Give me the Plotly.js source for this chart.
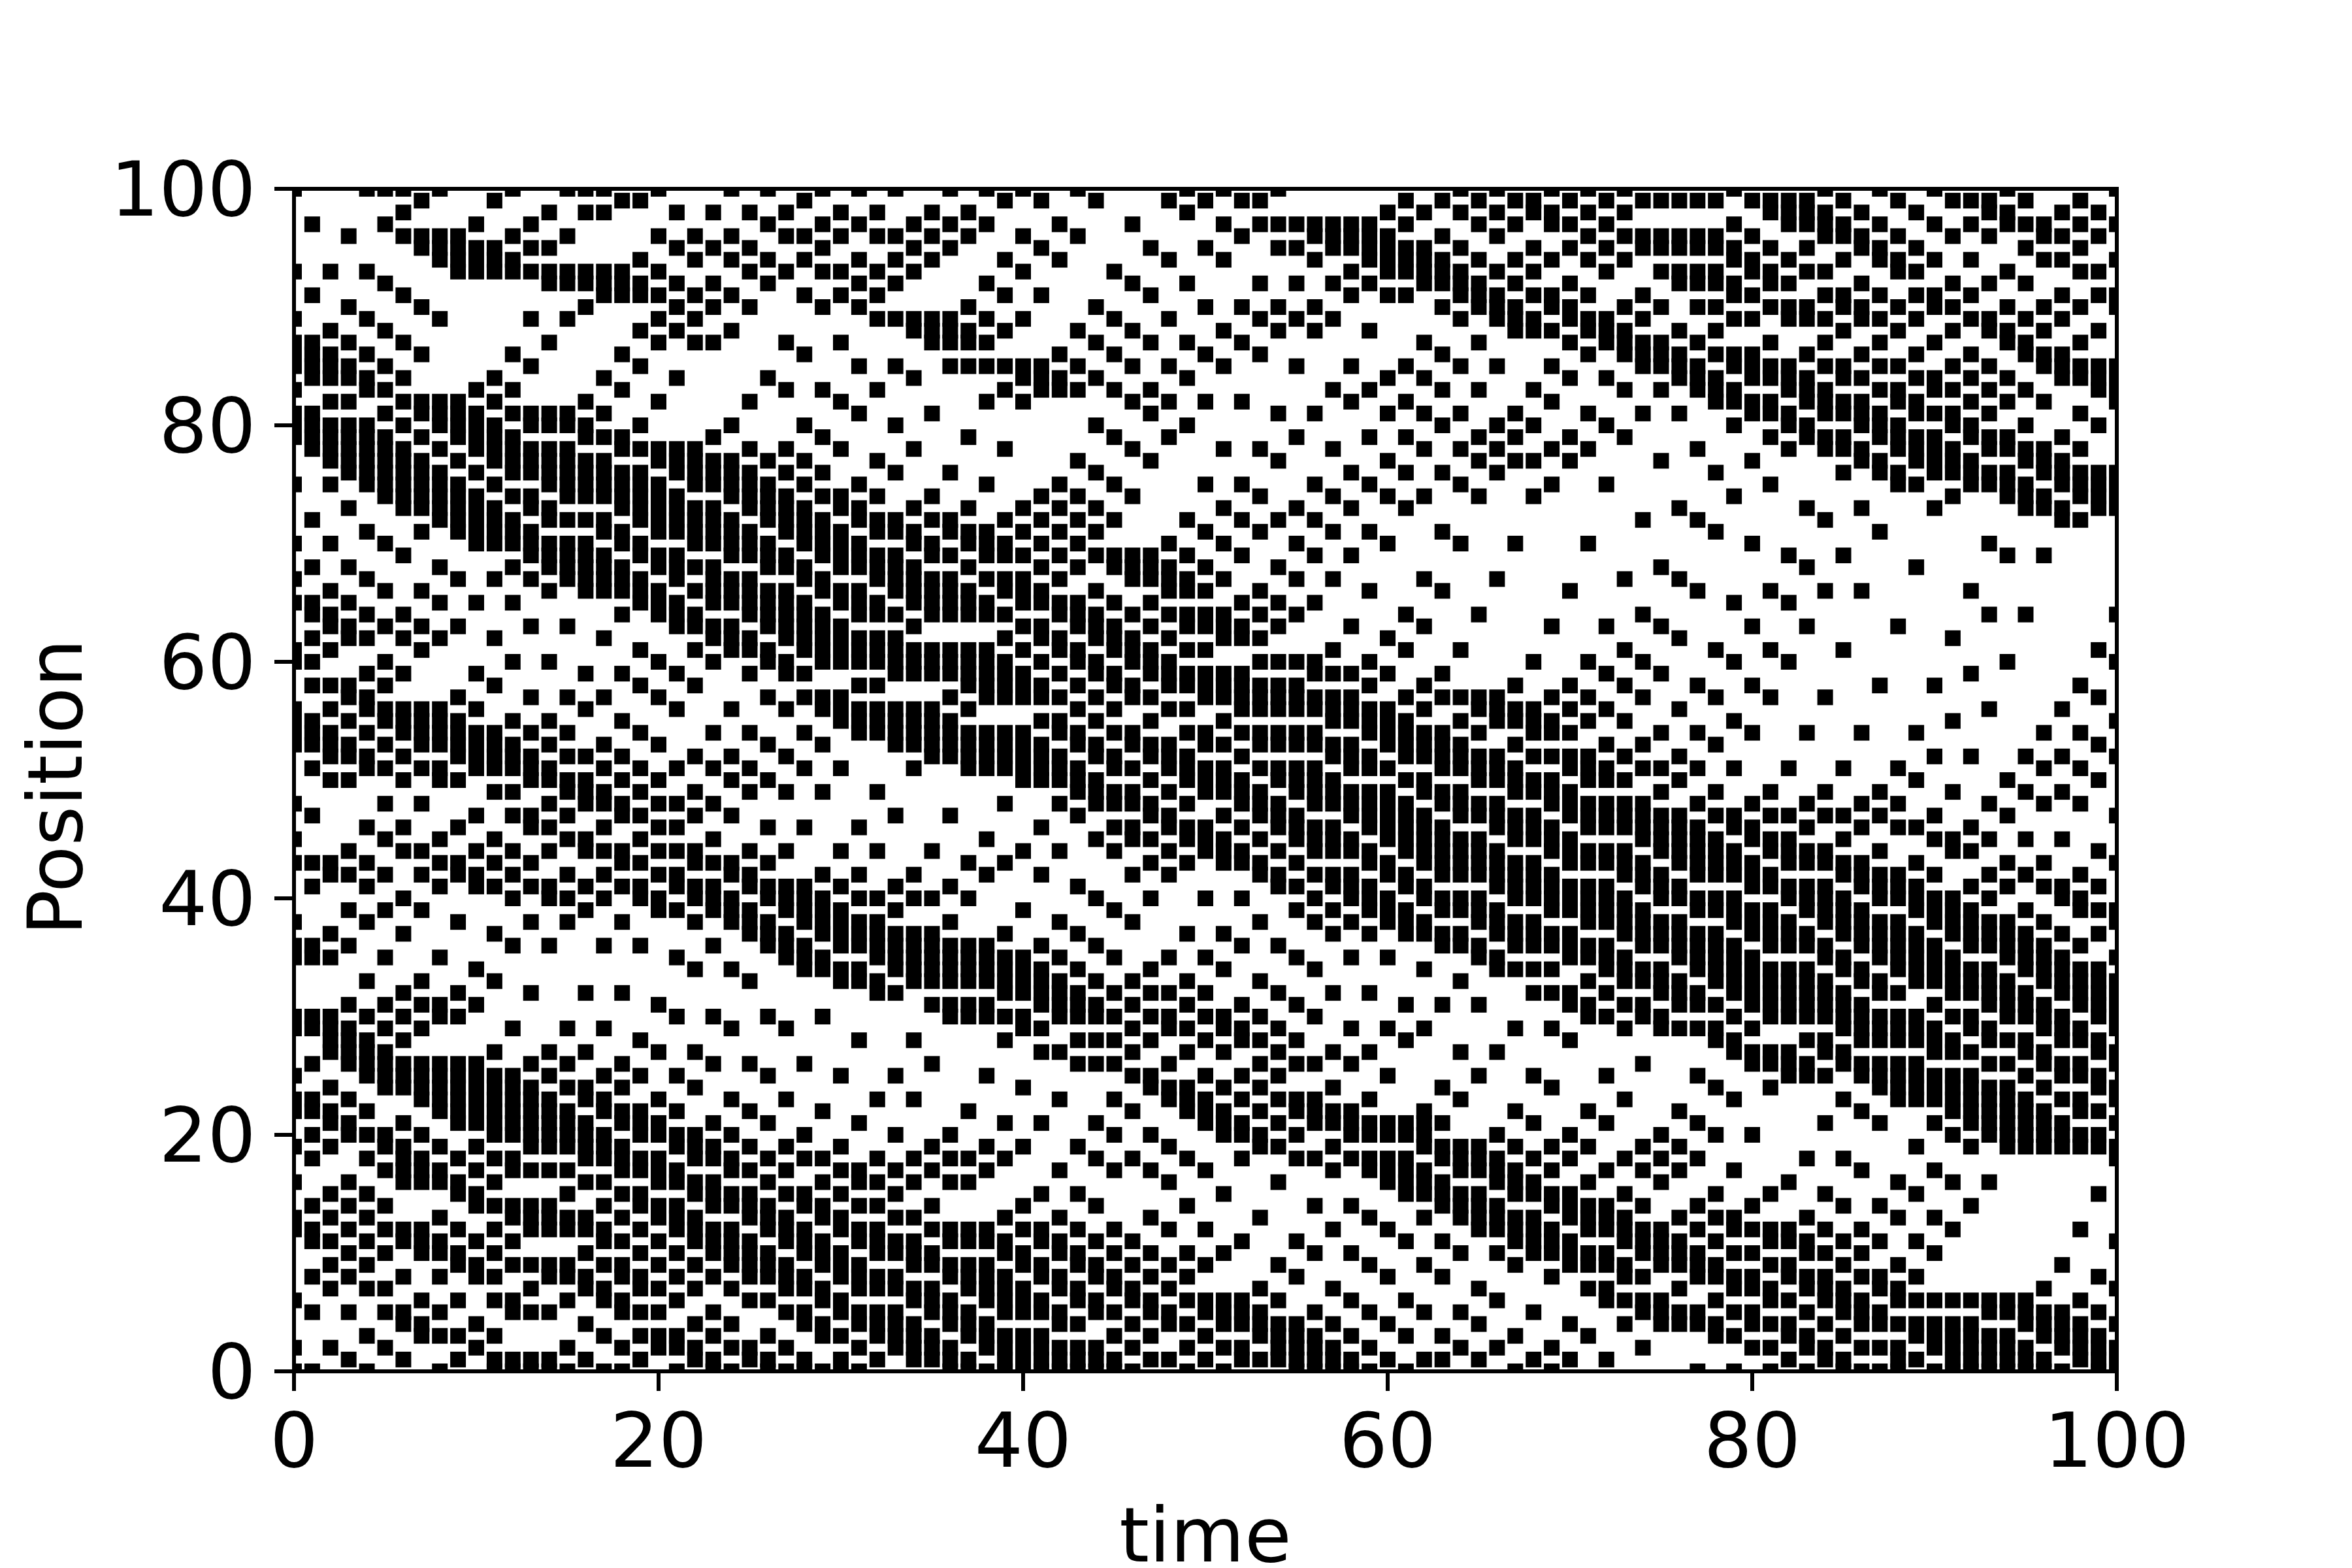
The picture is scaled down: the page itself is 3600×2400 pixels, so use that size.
<!DOCTYPE html>
<html>
<head>
<meta charset="utf-8">
<script src="https://cdn.plot.ly/plotly-3.0.1.min.js"></script>
<style>html,body{margin:0;padding:0;background:#fff}</style>
</head>
<body>
<div id="chart" style="width:3600px;height:2400px"></div>
<script>
const tickValues = [0, 20, 40, 60, 80, 100];
const xTitle = "time";
const yTitle = "Position";
const t0=[100,93,89,87,86,85,83,81,80,79,75,70,67,65,61,60,56,55,54,53,48,45,43,38,36,35,30,29,25,23,22,19,16,13,12,6,2,0];
const t1=[97,91,87,86,85,84,81,80,79,78,72,68,65,64,62,60,58,55,54,53,51,47,43,41,36,35,30,29,26,23,22,20,18,14,12,11,8,5,0];
const t2=[93,88,86,85,84,82,80,79,78,77,75,70,66,64,63,61,58,56,54,53,52,50,43,42,37,35,30,29,28,27,24,22,21,19,15,13,11,9,7,2];
const t3=[96,90,87,85,84,82,80,79,78,77,76,73,68,65,63,62,58,57,55,53,52,50,44,42,39,36,31,29,28,27,26,23,21,20,16,14,12,10,8,5,1];
const t4=[100,93,89,86,84,83,80,79,78,77,76,75,71,67,64,62,59,57,56,54,52,51,46,43,41,38,33,30,28,27,26,25,22,20,18,15,13,11,9,7,3,0];
const t5=[100,97,92,88,85,83,81,79,78,77,76,75,74,70,66,63,60,58,56,55,53,51,48,45,42,39,35,31,29,27,26,25,24,20,19,17,14,12,10,7,5,2];
const t6=[100,98,96,91,87,84,82,80,78,77,76,75,74,73,69,64,62,59,56,55,54,52,50,46,44,40,37,32,30,28,26,25,24,21,19,18,17,16,12,11,8,5,4,1];
const t7=[99,96,95,90,86,82,81,79,77,76,75,74,73,71,66,63,61,56,55,54,53,51,48,44,42,39,33,31,29,26,25,24,23,20,18,17,16,12,11,10,6,4,3];
const t8=[100,96,95,94,89,82,81,80,78,76,75,74,73,72,68,65,62,56,55,54,53,51,50,45,43,41,35,31,30,26,25,24,23,22,19,17,16,13,11,10,8,5,3,0];
const t9=[96,95,94,93,82,81,80,79,77,75,74,73,72,71,67,63,57,55,54,53,52,50,46,43,42,38,32,30,26,25,24,23,22,21,18,16,15,12,10,9,6,3,1];
const t10=[97,95,94,93,83,81,80,79,78,76,74,73,72,71,70,65,59,56,54,53,52,51,47,44,42,41,34,31,26,25,24,23,22,21,19,17,15,14,11,9,8,4,2];
const t11=[99,95,94,93,84,82,80,79,78,77,75,73,72,71,70,67,62,58,54,53,52,51,49,45,43,41,37,33,27,25,24,23,22,21,20,18,16,14,12,10,8,6,3,1,0];
const t12=[100,96,94,93,86,83,81,79,78,77,76,74,72,71,70,68,65,60,55,53,52,51,49,47,44,42,40,36,29,25,24,23,22,21,20,18,17,14,13,11,9,6,5,1,0];
const t13=[97,95,93,89,85,81,80,78,77,76,74,73,71,70,69,67,63,57,54,52,51,50,47,46,43,41,38,32,26,24,23,22,21,20,19,17,14,13,12,9,7,5,1,0];
const t14=[98,95,93,92,87,81,80,78,77,76,75,73,72,70,69,68,66,60,55,53,51,50,48,46,44,41,40,36,27,25,23,22,21,20,19,17,14,13,12,9,8,5,1,0];
const t15=[100,96,93,92,89,81,80,78,77,76,75,74,72,70,69,68,67,63,57,54,52,50,49,47,45,42,40,38,29,26,24,22,21,20,19,17,15,13,12,9,8,6,2,0];
const t16=[100,98,93,92,90,82,80,79,77,76,75,74,72,70,69,68,67,66,59,56,52,50,49,48,45,44,41,39,32,27,24,23,21,20,19,18,16,13,12,10,8,7,4,1];
const t17=[100,98,93,92,91,84,81,79,77,76,75,74,72,71,69,68,67,66,62,57,53,51,49,48,46,44,42,40,36,29,25,23,22,20,19,18,16,14,12,11,9,7,6,3,0];
const t18=[99,93,92,91,86,83,79,78,76,75,74,73,71,70,68,67,66,64,59,55,52,50,48,47,44,43,41,38,32,26,24,22,21,19,18,17,15,13,11,9,8,6,5,2,0];
const t19=[99,94,92,91,88,85,80,78,76,75,74,73,72,70,69,67,66,65,61,58,54,51,49,47,45,43,41,40,36,28,25,22,21,20,18,17,15,14,12,10,8,7,5,3,1];
const t20=[100,96,93,91,89,87,82,78,77,75,74,73,72,71,69,68,66,65,64,60,57,53,50,48,46,44,42,40,39,31,27,23,21,20,18,17,16,14,13,11,9,7,5,3,2];
const t21=[98,95,92,90,88,84,78,77,76,74,73,72,71,69,68,67,65,64,63,59,56,51,48,46,44,42,41,39,35,30,25,22,20,19,17,16,14,13,12,10,8,6,3,2,0];
const t22=[96,94,91,89,87,78,77,76,75,73,72,71,70,68,66,64,63,61,58,52,49,47,44,43,41,40,38,34,27,24,20,19,18,16,15,13,12,11,9,7,4,2,1];
const t23=[98,95,92,90,87,79,77,76,75,73,72,71,70,68,67,66,65,63,62,60,54,51,48,45,43,41,40,39,36,30,26,21,19,18,16,15,14,12,11,10,8,5,3,1,0];
const t24=[100,96,94,91,88,80,77,76,75,74,72,71,70,69,67,66,65,63,62,61,56,52,50,47,43,42,40,39,38,34,29,23,20,18,17,15,14,12,11,10,9,7,4,2,0];
const t25=[98,95,93,90,82,78,76,75,74,73,71,70,69,67,66,65,64,62,61,59,54,51,49,44,42,41,39,38,37,33,26,22,19,17,15,14,13,11,10,9,8,6,2,1];
const t26=[100,97,94,92,84,77,75,74,73,72,70,69,68,66,65,64,63,61,60,57,53,50,46,43,41,40,38,37,36,30,25,21,18,16,14,13,12,10,9,8,6,3,1,0];
const t27=[98,96,93,87,83,78,76,74,73,72,71,69,68,66,65,64,63,62,60,59,56,52,49,44,41,40,39,37,36,35,29,23,19,17,15,13,12,11,9,8,7,5,2,0];
const t28=[99,96,94,91,86,80,77,75,73,72,71,70,68,67,65,64,63,62,61,59,57,54,51,46,41,40,39,38,36,35,34,26,20,18,15,14,12,11,10,8,7,5,4,1,0];
const t29=[100,97,95,93,90,83,79,76,74,72,71,70,69,67,66,64,63,62,61,60,57,56,53,49,42,40,39,38,37,35,34,30,22,18,16,14,13,11,10,9,7,6,4,3,0];
const t30=[98,96,93,91,87,82,78,74,73,71,70,69,68,66,65,63,62,61,60,57,56,55,51,44,41,39,38,37,36,34,33,25,19,17,15,13,12,10,9,8,6,5,3,1,0];
const t31=[100,97,94,92,90,85,81,75,73,72,70,69,68,66,65,64,62,61,60,58,56,55,54,46,42,40,38,37,36,34,33,28,21,17,16,14,12,11,9,8,7,5,4,2,0];
const t32=[98,96,93,91,89,83,77,74,72,71,69,68,67,65,64,62,61,60,58,56,55,54,49,44,40,38,37,36,35,33,32,23,18,16,14,12,11,10,8,7,5,4,3,1];
const t33=[100,96,94,92,89,85,80,76,72,71,69,68,67,66,64,62,61,60,59,56,55,54,53,47,41,39,37,36,35,34,32,25,20,17,15,13,11,10,8,7,5,4,3,2];
const t34=[97,95,93,89,88,84,78,73,71,70,68,67,66,65,63,61,60,59,56,55,54,53,51,42,40,37,36,35,34,33,28,23,18,16,13,11,10,9,7,6,4,3,2,1];
const t35=[98,96,94,89,88,87,81,74,72,70,69,67,66,65,64,61,60,59,56,55,54,53,52,44,40,37,36,35,34,33,31,26,19,17,14,12,10,9,7,6,5,3,2,1];
const t36=[100,97,95,89,88,87,85,76,72,71,69,67,66,65,64,61,60,59,57,55,54,53,52,47,41,38,36,35,34,33,31,30,20,18,16,12,11,9,8,6,5,4,2,1,0];
const t37=[98,96,90,88,87,85,79,73,71,70,68,66,65,64,61,60,59,58,56,54,53,52,51,43,40,36,35,34,33,31,30,22,18,16,12,11,9,8,7,5,4,3,1,0];
const t38=[100,97,92,89,87,85,82,75,71,70,69,67,65,64,61,60,59,58,57,54,53,52,51,45,42,36,35,34,33,31,30,25,19,17,12,11,9,8,7,6,4,3,2,0];
const t39=[99,94,91,88,85,83,78,72,70,69,67,66,64,62,60,59,58,57,54,53,52,51,48,43,37,35,34,33,32,30,28,21,18,13,11,10,8,7,6,5,3,2,1,0];
const t40=[100,96,93,89,85,84,82,73,71,69,67,66,65,63,61,59,58,57,54,53,52,51,50,44,39,35,34,33,32,30,29,24,19,14,12,10,9,7,6,5,3,2,1,0];
const t41=[99,95,91,85,84,83,74,72,70,68,66,65,63,62,60,58,57,55,53,52,51,50,46,42,36,34,33,32,31,29,27,21,15,12,11,9,8,6,5,3,2,1,0];
const t42=[97,94,86,84,83,75,73,71,69,67,65,64,62,61,59,57,55,54,52,51,50,48,44,38,35,33,32,31,30,27,23,17,13,11,10,8,7,5,4,2,1,0];
const t43=[100,96,88,85,83,77,74,72,70,68,65,64,63,61,60,58,56,54,53,51,50,49,47,41,37,34,32,31,30,28,26,19,15,12,10,9,7,6,4,2,1,0];
const t44=[99,90,87,84,80,76,73,71,69,66,64,63,62,60,59,57,55,53,52,50,49,48,45,40,36,33,31,30,28,26,21,18,14,11,9,8,6,5,2,1,0];
const t45=[93,89,86,83,79,75,72,69,68,65,63,62,61,59,58,56,54,52,51,49,48,46,44,39,35,32,30,28,26,23,20,17,12,10,8,7,5,3,1,0];
const t46=[97,92,88,85,82,78,74,69,68,67,64,62,61,60,58,57,54,53,51,49,48,46,45,42,38,33,31,29,27,25,22,18,11,9,7,6,4,2,0];
const t47=[95,91,87,83,81,77,69,68,67,65,63,61,60,59,57,55,53,52,50,48,47,45,43,40,34,32,30,28,25,24,20,17,13,10,8,6,5,3,1];
const t48=[99,94,89,85,82,79,70,68,67,66,64,62,60,59,58,56,53,52,51,49,47,46,44,42,35,32,30,29,26,24,23,19,16,12,9,7,5,4,1];
const t49=[100,98,92,87,84,80,72,69,67,66,64,63,61,59,58,56,54,52,51,50,48,46,45,43,37,33,31,29,27,24,23,22,18,14,10,8,6,4,2,0];
const t50=[99,95,90,86,82,75,71,68,66,64,63,61,59,58,57,54,53,51,50,49,46,45,44,40,35,32,30,28,25,23,22,21,17,12,9,6,5,3,1];
const t51=[100,97,94,88,85,78,73,70,67,64,63,62,59,58,57,55,53,51,50,49,47,45,44,43,37,34,30,29,27,24,22,21,20,15,10,6,5,4,2,0];
const t52=[99,96,90,87,82,75,72,69,65,63,62,59,58,57,56,54,52,50,49,48,46,44,43,40,36,31,29,28,25,23,21,20,18,11,6,5,4,2,1];
const t53=[99,97,92,89,86,78,74,71,66,64,62,60,58,57,56,54,53,51,49,48,47,45,43,42,38,33,30,28,26,24,22,20,19,13,7,5,4,3,1];
const t54=[100,97,95,90,88,81,77,72,68,65,63,60,58,57,56,54,53,51,50,48,47,46,44,42,41,36,32,29,27,25,23,21,19,16,9,6,4,3,2,1];
const t55=[97,95,92,89,85,79,73,70,67,64,60,58,57,56,54,53,51,50,49,47,46,45,43,41,39,35,31,28,26,23,22,20,18,11,8,4,3,2,1,0];
const t56=[97,96,94,90,88,81,75,72,69,65,60,59,57,56,54,53,51,50,49,48,46,45,44,42,40,38,34,30,26,23,22,21,18,14,10,5,3,2,1,0];
const t57=[97,96,95,92,89,83,78,74,71,67,61,59,57,56,55,53,52,50,49,48,46,45,44,42,41,39,37,32,27,24,22,21,19,17,12,7,4,2,1,0];
const t58=[97,96,95,93,91,85,82,76,73,69,63,59,57,56,55,53,52,51,49,48,47,45,44,42,41,40,38,35,29,26,22,21,20,18,14,10,6,3,1,0];
const t59=[97,96,95,94,92,88,83,79,75,71,66,60,58,56,55,54,52,51,49,48,47,46,44,43,41,40,39,37,32,27,23,21,20,18,17,13,9,5,2,0];
const t60=[98,96,95,94,93,91,84,81,77,74,70,62,59,56,55,54,53,51,49,48,47,46,45,43,42,40,39,38,35,29,25,21,20,18,17,16,12,8,4,1];
const t61=[99,97,95,94,93,91,85,82,79,76,73,64,61,57,55,54,53,52,50,48,47,46,45,44,42,41,39,38,37,31,28,21,20,18,17,16,15,11,6,3,0];
const t62=[98,95,94,93,92,87,84,81,78,74,67,63,58,56,54,53,52,50,49,47,46,45,44,43,41,40,38,37,34,29,22,21,20,19,17,16,15,13,9,5,1];
const t63=[99,96,94,93,92,90,86,83,80,76,71,66,59,57,54,53,52,51,49,48,46,45,44,43,42,40,39,37,36,31,24,21,19,18,16,15,14,11,8,3,1];
const t64=[100,98,95,93,92,91,89,85,81,78,75,70,61,57,55,53,52,51,49,48,47,45,44,43,42,40,39,37,36,33,27,23,19,18,17,15,14,13,10,5,2];
const t65=[99,97,94,92,91,90,87,83,79,77,74,64,57,56,54,52,51,50,48,47,45,44,43,42,40,39,38,36,35,31,25,19,18,17,15,14,13,12,7,4,1];
const t66=[100,98,96,93,91,90,89,85,80,78,76,67,57,56,55,52,51,50,48,47,46,44,43,42,41,39,38,37,35,34,27,20,18,17,16,14,13,12,10,6,2];
const t67=[99,97,94,92,90,89,88,81,79,77,70,58,56,55,53,51,50,49,47,46,45,43,42,41,40,38,37,36,34,29,22,19,17,16,15,13,12,11,9,3,0];
const t68=[99,98,95,93,91,89,88,83,80,77,74,60,56,55,54,52,50,49,47,46,45,43,42,41,40,38,37,36,34,32,25,21,18,16,15,13,12,11,10,5,1];
const t69=[100,98,97,94,91,90,88,85,82,78,75,63,57,55,54,52,50,49,48,46,45,44,42,41,40,39,37,36,34,32,29,24,19,17,15,14,12,11,10,8,2,0];
const t70=[99,97,95,92,90,89,87,84,79,77,66,58,56,54,52,51,49,48,47,45,44,43,41,40,39,37,36,35,32,31,28,20,18,15,14,13,11,10,9,4,1];
const t71=[100,98,96,94,91,89,88,86,81,78,70,60,57,55,52,51,50,48,47,46,44,43,41,40,39,38,36,35,33,31,30,22,19,16,14,13,12,10,9,7,3];
const t72=[99,97,95,93,89,88,87,84,80,75,63,59,56,53,51,50,48,47,46,44,43,41,40,39,38,36,35,34,32,30,25,21,17,14,13,12,10,9,7,6,1];
const t73=[100,98,96,94,90,88,87,86,83,79,67,61,58,55,52,50,48,47,46,44,43,42,40,39,38,37,35,34,33,31,29,23,18,15,13,12,11,9,8,6,4];
const t74=[99,96,95,91,89,87,86,85,81,72,64,60,57,53,51,48,47,46,45,43,42,41,39,38,37,36,34,33,31,30,26,19,17,14,12,11,10,8,6,5,2];
const t75=[99,96,95,93,90,87,86,85,83,77,68,63,59,54,51,49,47,46,45,44,42,41,40,38,37,36,34,33,32,30,29,20,18,16,12,11,10,9,6,5,4];
const t76=[99,96,95,93,92,88,86,85,84,81,73,67,62,56,52,50,47,46,45,44,43,41,40,38,37,36,35,33,32,31,29,22,19,17,13,11,10,9,7,5,4];
const t77=[99,96,95,93,92,90,87,85,84,83,78,72,66,58,54,51,48,46,45,44,43,42,40,39,37,36,35,34,32,31,29,25,21,18,14,12,10,9,8,5,4,0];
const t78=[99,96,95,93,92,90,88,86,84,83,82,76,71,61,57,53,49,47,45,44,43,42,40,39,37,36,35,34,33,31,29,28,24,20,15,13,11,9,8,6,4,3];
const t79=[100,97,95,94,92,91,89,86,85,83,82,80,74,65,60,55,51,47,46,44,43,42,40,39,38,36,35,34,33,32,30,28,27,23,17,13,12,10,8,7,5,3,0];
const t80=[99,96,94,93,91,89,86,85,84,82,81,77,70,63,58,54,48,46,45,43,42,41,39,38,37,35,34,33,32,31,29,27,26,20,14,12,10,8,7,5,4,2];
const t81=[99,98,95,93,92,90,87,85,84,82,81,79,75,66,61,57,49,47,45,44,42,41,39,38,37,36,34,33,32,31,30,27,26,24,15,12,11,9,7,6,4,2,0];
const t82=[99,98,97,94,92,90,89,85,84,83,81,80,78,69,65,60,51,47,45,44,43,41,40,38,37,36,34,33,32,31,30,27,26,25,16,12,11,9,8,6,4,3,1];
const t83=[99,98,97,95,93,90,89,86,84,83,82,80,79,73,68,63,54,48,46,44,43,41,40,39,37,36,34,33,32,31,30,28,26,25,18,13,11,10,8,7,5,3,2,0];
const t84=[100,98,97,96,93,91,89,87,85,83,82,81,79,78,72,66,57,49,47,44,43,41,40,39,38,36,35,33,32,31,30,28,27,25,21,15,12,10,8,7,6,4,2,1];
const t85=[99,97,96,94,91,90,88,85,84,82,81,79,78,76,69,61,51,47,45,43,42,40,39,38,37,35,34,32,31,30,29,27,26,23,18,14,11,9,7,6,5,3,1,0];
const t86=[98,96,95,92,90,89,86,84,82,81,80,78,77,73,66,54,48,46,43,42,41,39,38,37,36,34,33,31,30,29,28,26,25,22,17,12,10,8,6,5,4,2,0];
const t87=[100,97,95,94,91,89,87,85,83,81,80,79,77,76,71,58,49,47,44,42,41,40,38,37,36,35,33,32,30,29,28,26,25,24,21,14,11,8,7,5,4,2,0];
const t88=[99,96,94,93,90,88,85,83,82,80,79,78,76,75,63,51,48,46,42,41,40,38,37,36,35,34,32,30,29,28,26,25,24,23,16,13,9,7,6,4,2,1,0];
const t89=[98,95,93,91,89,86,84,82,81,79,78,77,75,68,54,50,46,43,41,40,39,37,36,35,34,33,30,29,28,26,25,24,23,19,15,11,8,6,4,3,1];
const t90=[100,97,94,91,90,87,84,83,81,79,78,77,76,73,58,52,47,45,42,40,39,38,36,35,34,33,31,29,28,27,25,24,23,21,17,13,10,6,4,3,2,0];
const t91=[99,96,92,90,88,85,83,81,80,78,77,76,74,62,55,49,45,44,40,39,38,37,35,34,33,32,30,28,27,25,24,23,22,20,16,12,6,4,3,2,1,0];
const t92=[99,97,94,91,89,86,84,82,80,79,77,76,75,66,59,52,46,44,41,39,38,37,36,34,33,32,30,29,27,25,24,23,22,21,19,14,6,4,3,2,1,0];
const t93=[99,98,96,92,89,88,85,83,81,79,78,76,75,70,64,56,48,45,42,40,38,37,36,34,33,32,31,29,28,26,24,23,22,21,20,16,6,5,3,2,1,0];
const t94=[100,98,97,93,90,88,87,84,82,79,78,76,75,74,69,60,50,47,43,41,38,37,36,35,33,32,31,30,28,26,24,23,22,21,20,19,6,5,3,2,1,0];
const t95=[99,97,95,92,89,87,86,83,80,78,77,75,74,73,64,52,49,45,42,39,37,36,35,34,32,31,30,28,27,25,23,22,21,20,19,6,5,4,2,1,0];
const t96=[97,96,94,90,88,86,85,82,78,77,76,74,73,69,54,51,48,43,41,38,36,35,34,33,31,30,29,27,26,24,22,21,20,19,7,5,4,3,1,0];
const t97=[98,96,94,91,89,86,85,84,79,77,76,75,73,72,56,52,49,45,41,40,37,35,34,33,32,30,29,28,26,25,23,21,20,19,9,5,4,3,2,0];
const t98=[99,97,95,93,90,87,85,84,81,78,76,75,74,72,58,54,51,48,42,40,39,36,34,33,32,31,29,28,26,25,23,22,20,19,12,6,4,3,2,1];
const t99=[98,96,93,91,88,85,84,83,80,76,75,74,73,61,57,53,50,44,41,39,37,34,33,32,31,30,28,27,25,24,22,20,19,15,8,5,3,2,1,0];
const t100=[100,97,94,91,90,85,84,83,82,76,75,74,73,64,60,55,52,47,43,39,38,35,33,32,31,30,29,27,26,24,23,21,19,18,11,7,4,2,1,0];

const columns = [t0,t1,t2,t3,t4,t5,t6,t7,t8,t9,t10,t11,t12,t13,t14,t15,t16,t17,t18,t19,t20,t21,t22,t23,t24,t25,t26,t27,t28,t29,t30,t31,t32,t33,t34,t35,t36,t37,t38,t39,t40,t41,t42,t43,t44,t45,t46,t47,t48,t49,t50,t51,t52,t53,t54,t55,t56,t57,t58,t59,t60,t61,t62,t63,t64,t65,t66,t67,t68,t69,t70,t71,t72,t73,t74,t75,t76,t77,t78,t79,t80,t81,t82,t83,t84,t85,t86,t87,t88,t89,t90,t91,t92,t93,t94,t95,t96,t97,t98,t99,t100];

const xs = [], ys = [];
columns.forEach((col, time) => col.forEach(pos => { xs.push(time); ys.push(pos); }));

const fontFamily = "DejaVu Sans, sans-serif";
const fontSize = 116.67;
const axisCommon = {
  range: [0, 100],
  tickmode: "array",
  tickvals: tickValues,
  ticktext: tickValues.map(String),
  ticks: "outside",
  ticklen: 29,
  tickwidth: 6,
  tickcolor: "#000",
  showline: false,
  showgrid: false,
  zeroline: false,
  tickfont: { family: fontFamily, size: fontSize, color: "#000" },
  automargin: false
};

Plotly.newPlot("chart", [{
  type: "scatter",
  mode: "markers",
  x: xs,
  y: ys,
  cliponaxis: true,
  marker: { symbol: "square", size: 24, color: "#000", line: { width: 0 } },
  hoverinfo: "skip"
}], {
  width: 3600,
  height: 2400,
  margin: { l: 450, r: 360, t: 289, b: 301, pad: 0 },
  paper_bgcolor: "#fff",
  plot_bgcolor: "#fff",
  showlegend: false,
  shapes: [{ type: "rect", xref: "paper", yref: "paper", x0: 0, x1: 1, y0: 0, y1: 1,
             line: { color: "#000", width: 6 }, fillcolor: "rgba(0,0,0,0)", layer: "above" }],
  xaxis: Object.assign({}, axisCommon, {
    ticklabelstandoff: -24,
    title: { text: xTitle, font: { family: fontFamily, size: fontSize, color: "#000" }, standoff: 74 }
  }),
  yaxis: Object.assign({}, axisCommon, {
    ticklabelstandoff: 5,
    title: { text: yTitle, font: { family: fontFamily, size: fontSize, color: "#000" }, standoff: 4 }
  })
}, { displayModeBar: false, staticPlot: true }).then(() => {
  const yt = document.querySelector("#chart .ytitle");
  if (yt) yt.setAttribute("transform", "translate(0,11) " + (yt.getAttribute("transform") || ""));
  const xt = document.querySelector("#chart .xtitle");
  if (xt) xt.setAttribute("transform", "translate(0,18) " + (xt.getAttribute("transform") || ""));
});
</script>
</body>
</html>
